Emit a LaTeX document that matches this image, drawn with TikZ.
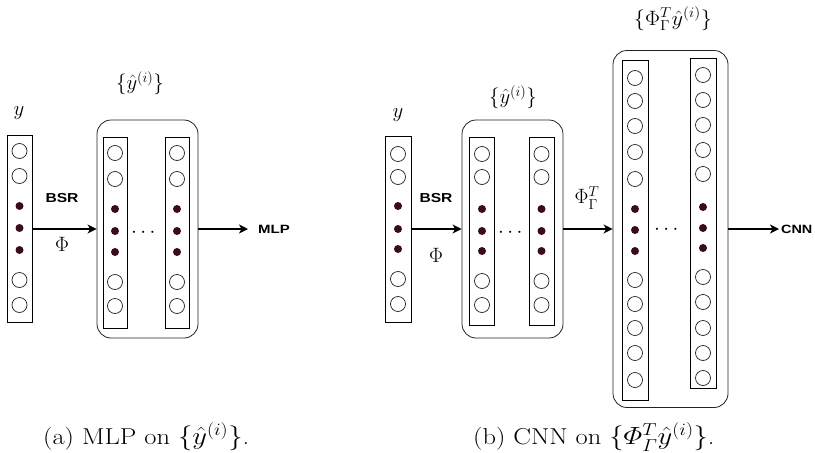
\documentclass[tikz,border=0pt]{standalone}
\usepackage{amsmath}
\usepackage{graphicx}
\usepackage{fontspec}
\newfontfamily\arialf{Liberation Sans}
\usetikzlibrary{arrows.meta}
\definecolor{dotc}{HTML}{3A0A1E}
\definecolor{linec}{HTML}{222222}
\newcommand\xstretch[2]{\scalebox{#1}[1]{#2}}
\begin{document}
\begin{tikzpicture}[x=1pt,y=-1pt,
 col/.style={draw=black, line width=0.8pt, inner sep=0, minimum width=25},
 neu/.style={circle, draw=linec, line width=0.7pt, inner sep=0, minimum size=15},
 dotn/.style={circle, fill=dotc, inner sep=0, minimum size=8},
 grp/.style={draw=linec, line width=0.8pt, rounded corners=14, inner sep=0},
 arr/.style={-{Stealth[length=9,width=9,inset=2.5]}, line width=1.3pt},
 lbl/.style={font=\fontsize{20.74}{23}\selectfont, inner sep=0},
 sfl/.style={font=\arialf\bfseries\fontsize{13}{15}\selectfont, inner sep=0},
 outl/.style={font=\arialf\bfseries\fontsize{12}{14}\selectfont, inner sep=0, anchor=west},
 capt/.style={font=\fontsize{23}{26}\selectfont, inner sep=0, anchor=west}]
\useasboundingbox (0,0) rectangle (815,453);

% ---------- panel (a) ----------
\node[col, minimum height=187] (ya) at (19.5,229) {};
\foreach \y [count=\i] in {151,176,280,305} \node[neu] (yan\i) at (19.5,\y) {};
\foreach \y [count=\i] in {206,228,250} \node[dotn] (yad\i) at (19.5,\y) {};
\node[lbl] (yalbl) at (19,113) {$y$};

\node[grp, minimum width=101, minimum height=218] (ga) at (147.5,229) {};
\node[col, minimum width=24, minimum height=191] (ga1) at (115,232.5) {};
\node[col, minimum width=24, minimum height=191] (ga2) at (177,232.5) {};
\foreach \x/\c in {115/1,177/2}{
  \foreach \y [count=\i] in {153,179,282,306} \node[neu] (ga\c n\i) at (\x,\y) {};
  \foreach \y [count=\i] in {209,231,252} \node[dotn] (ga\c d\i) at (\x,\y) {};
}
\node[lbl] (galbl) at (140,83) {$\{\hat{y}^{(i)}\}$};
\node[lbl] (gadots) at (145,233) {$\cdots$};

\draw[arr] (ya.east) -- (ga.west);
\node[sfl] (bsra) at (62,198) {\xstretch{1.2}{BSR}};
\node[lbl] (phia) at (62,244) {$\Phi$};
\node[outl] (mlp) at (258,229) {\xstretch{1.25}{MLP}};
\draw[arr] (ga.east) -- ([xshift=-10pt]mlp.west);

\node[capt] (capa) at (43,437) {\xstretch{1.15}{(a) MLP on $\{\hat{y}^{(i)}\}$.}};

% ---------- panel (b) ----------
\node[col, minimum width=26, minimum height=186] (yb) at (398,229) {};
\foreach \y [count=\i] in {154,177,279,304} \node[neu] (ybn\i) at (398,\y) {};
\foreach \y [count=\i] in {206,229,249} \node[dotn] (ybd\i) at (398,\y) {};
\node[lbl] (yblbl) at (398,115) {$y$};

\node[grp, minimum width=101, minimum height=218] (gb) at (512.5,229) {};
\node[col, minimum width=25, minimum height=188] (gb1) at (482,231) {};
\node[col, minimum width=25, minimum height=188] (gb2) at (541.5,231) {};
\foreach \x/\c in {482/1,541.5/2}{
  \foreach \y [count=\i] in {154,177,281,305} \node[neu] (gb\c n\i) at (\x,\y) {};
  \foreach \y [count=\i] in {209,231,251} \node[dotn] (gb\c d\i) at (\x,\y) {};
}
\node[lbl] (gblbl) at (513,97) {$\{\hat{y}^{(i)}\}$};
\node[lbl] (gbdots) at (512,233) {$\cdots$};

\draw[arr] (yb.east) -- (yb.east -| gb.west);
\node[sfl] (bsrb) at (436,198) {\xstretch{1.2}{BSR}};
\node[lbl] (phib) at (436,255) {$\Phi$};

\node[grp, minimum width=115, minimum height=357] (gc) at (670.5,229) {};
\node[col, minimum width=26, minimum height=340] (gc1) at (635,230) {};
\node[col, minimum width=26, minimum height=330] (gc2) at (703,223) {};
\foreach \y [count=\i] in {78,101,126,152,179,280,304,328,353,380} \node[neu] (gc1n\i) at (635,\y) {};
\foreach \y [count=\i] in {209,230,251} \node[dotn] (gc1d\i) at (635,\y) {};
\foreach \y [count=\i] in {75,100,125,150,174,277,302,328,353,378} \node[neu] (gc2n\i) at (703,\y) {};
\foreach \y [count=\i] in {207,228,248} \node[dotn] (gc2d\i) at (703,\y) {};
\node[lbl] (gclbl) at (673,19) {\xstretch{1.08}{$\{\Phi_{\Gamma}^{T}\hat{y}^{(i)}\}$}};
\node[lbl] (gcdots) at (668,230) {$\cdots$};

\draw[arr] (gb.east) -- (gc.west);
\node[lbl] (phigt) at (587,198) {$\Phi_{\Gamma}^{T}$};
\node[outl] (cnn) at (781,229) {\xstretch{1.2}{CNN}};
\draw[arr] (gc.east) -- ([xshift=-2pt]cnn.west);

\node[capt] (capb) at (473,437) {\xstretch{1.15}{(b) CNN on $\{\varPhi_{\varGamma}^{T}\hat{y}^{(i)}\}$.}};
\end{tikzpicture}
\end{document}
